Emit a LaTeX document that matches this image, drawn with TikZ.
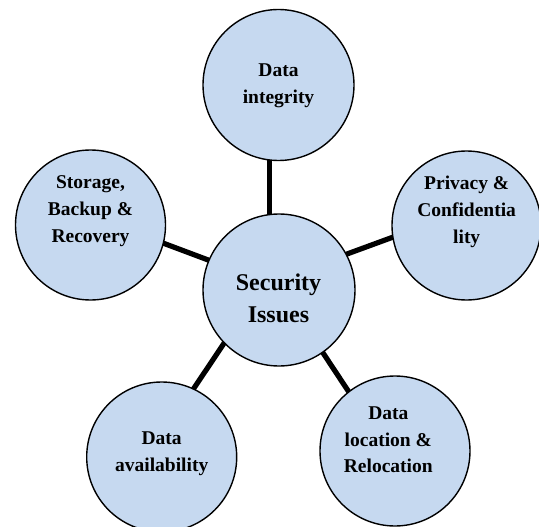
\documentclass[tikz,border=0pt]{standalone}
\usepackage{fontspec}
\setmainfont{Liberation Serif}
\begin{document}
\begin{tikzpicture}[x=1pt,y=-1pt,
  bubble/.style={circle,draw=black,line width=1.4pt,fill=bubblefill,inner sep=0pt,outer sep=0pt},
  caption/.style={align=center,inner sep=0pt,font=\fontsize{19.5}{26.7}\selectfont\bfseries},
  hubcaption/.style={align=center,inner sep=0pt,font=\fontsize{24}{32}\selectfont\bfseries},
  link/.style={line width=5.2pt}]
\definecolor{bubblefill}{RGB}{198,217,240}
\useasboundingbox (0,0) rectangle (539,527);
\clip (0,0) rectangle (539,527);

% circles
\node[bubble,minimum size=152pt] (hub) at (279,290) {};
\node[bubble,minimum size=151pt] (integrity) at (278.5,85) {};
\node[bubble,minimum size=150pt] (storage) at (90.5,225) {};
\node[bubble,minimum size=149pt] (privacy) at (466.5,225.5) {};
\node[bubble,minimum size=150pt] (availability) at (161.7,457) {};
\node[bubble,minimum size=150pt] (location) at (395,451) {};

% spokes
\draw[link] (hub.97.6) -- (hub.97.6 |- integrity.262.8);
\draw[link] (hub.157) -- (storage.-14.6);
\draw[link] (hub.28) -- (privacy.189.9);
\draw[link] (hub.224.6) -- (availability.65.7);
\draw[link] (hub.-55.7) -- (location.128);

% labels
\node[hubcaption] (hubtext) at (278.5,298) {Security\\Issues};
\node[caption] (integritytext) at (278.5,85.5) {Data\\integrity};
\node[caption] (storagetext) at (90.5,211) {Storage,\\Backup \&\\Recovery};
\node[caption] (privacytext) at (466.7,212) {Privacy \&\\Confidentia\\lity};
\node[caption] (availabilitytext) at (161.7,453.5) {Data\\availability};
\node[caption] (locationtext) at (388.3,440) {Data\\location \&\\Relocation};
\end{tikzpicture}
\end{document}
